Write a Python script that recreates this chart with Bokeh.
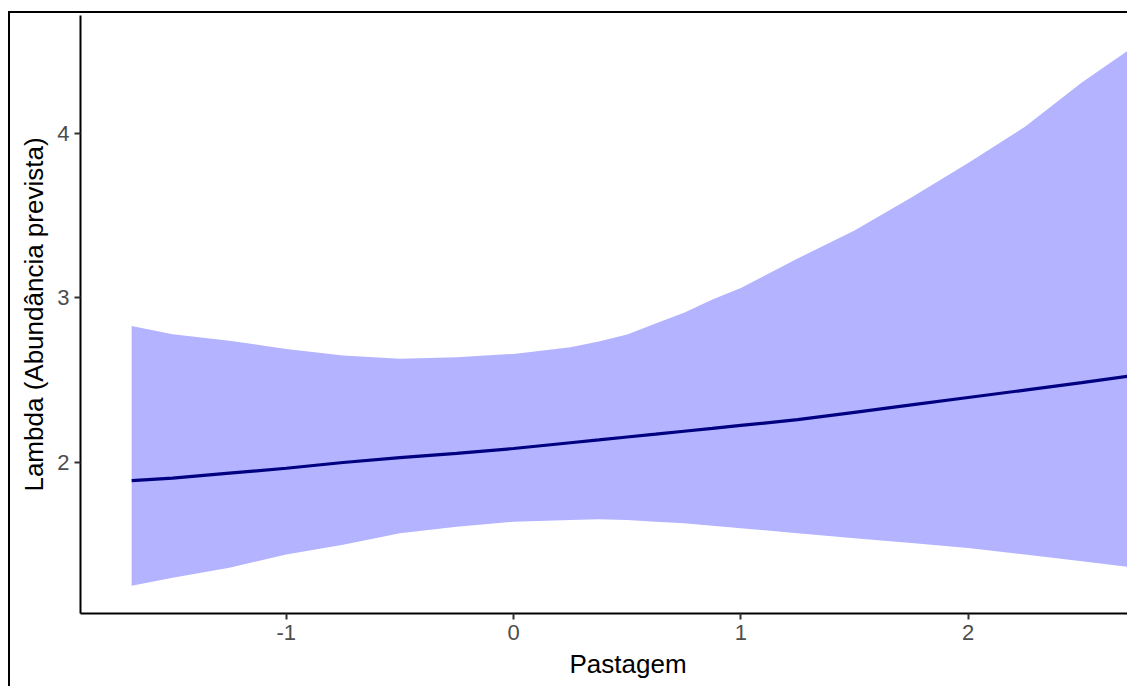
from bokeh.plotting import figure
from bokeh.models import FixedTicker, Title, Range1d
from bokeh.embed import file_html
from bokeh.resources import INLINE

# ---- data ----
pastagem = [-1.68, -1.5, -1.25, -1.0, -0.75, -0.5, -0.25, 0.0, 0.25, 0.375, 0.5, 0.625,
            0.75, 0.875, 1.0, 1.25, 1.5, 1.75, 2.0, 2.25, 2.5, 2.73]
lambda_fit = [1.89, 1.905, 1.935, 1.965, 2.00, 2.03, 2.055, 2.085, 2.12, 2.137, 2.155, 2.172,
              2.19, 2.207, 2.225, 2.26, 2.305, 2.35, 2.395, 2.44, 2.485, 2.53]
lambda_upper = [2.83, 2.78, 2.74, 2.69, 2.65, 2.63, 2.64, 2.66, 2.70, 2.735, 2.778, 2.845,
                2.91, 2.99, 3.06, 3.24, 3.41, 3.61, 3.82, 4.04, 4.31, 4.53]
lambda_lower = [1.25, 1.30, 1.36, 1.44, 1.50, 1.57, 1.61, 1.64, 1.65, 1.655, 1.65, 1.64,
                1.63, 1.615, 1.60, 1.57, 1.54, 1.51, 1.48, 1.44, 1.40, 1.36]
x_ticks = [-1, 0, 1, 2]
x_tick_labels = {-1: "-1", 0: "0", 1: "1", 2: "2"}
y_ticks = [2, 3, 4]
x_title = "Pastagem"
y_title = "Lambda (Abundância prevista)"

FONT = "Liberation Sans"

p = figure(width=1127, height=686, output_backend="svg", toolbar_location=None,
           x_range=Range1d(-1.905, 2.701), y_range=Range1d(1.082, 4.717),
           min_border_left=80, min_border_right=0, min_border_top=15,
           min_border_bottom=73)
p.border_fill_color = None
p.background_fill_color = "white"
p.outline_line_color = None
p.xgrid.visible = False
p.ygrid.visible = False
p.styles = {"box-shadow": ("inset 0 11px 0 0 #ffffff, inset 8px 0 0 0 #ffffff, "
                           "inset 0 13px 0 0 #000000, inset 10px 0 0 0 #000000")}

p.varea(x=pastagem, y1=lambda_lower, y2=lambda_upper, fill_color="#B3B3FF", fill_alpha=1.0)
p.line(x=pastagem, y=lambda_fit, line_color="#000080", line_width=3.2)

for ax in (p.xaxis[0], p.yaxis[0]):
    ax.axis_line_color = "#000000"
    ax.axis_line_width = 2
    ax.major_tick_line_color = "#333333"
    ax.major_tick_line_width = 2
    ax.major_tick_out = 6
    ax.major_tick_in = 0
    ax.minor_tick_line_color = None
    ax.major_label_text_font = FONT
    ax.major_label_text_font_size = "22px"
    ax.major_label_text_color = "#4D4D4D"
    ax.major_label_standoff = 5

p.xaxis.ticker = FixedTicker(ticks=x_ticks)
p.xaxis.major_label_overrides = x_tick_labels
p.yaxis.ticker = FixedTicker(ticks=y_ticks)

p.yaxis.axis_label = y_title
p.yaxis.axis_label_text_font = FONT
p.yaxis.axis_label_text_font_size = "26px"
p.yaxis.axis_label_text_font_style = "normal"
p.yaxis.axis_label_text_color = "#000000"
p.yaxis.axis_label_standoff = 5

p.add_layout(Title(text=x_title, align="left", offset=489, text_font=FONT,
                   text_font_size="26px", text_font_style="normal",
                   text_color="#000000", standoff=8), "below")

open("out.html", "w").write(file_html(p, INLINE))
